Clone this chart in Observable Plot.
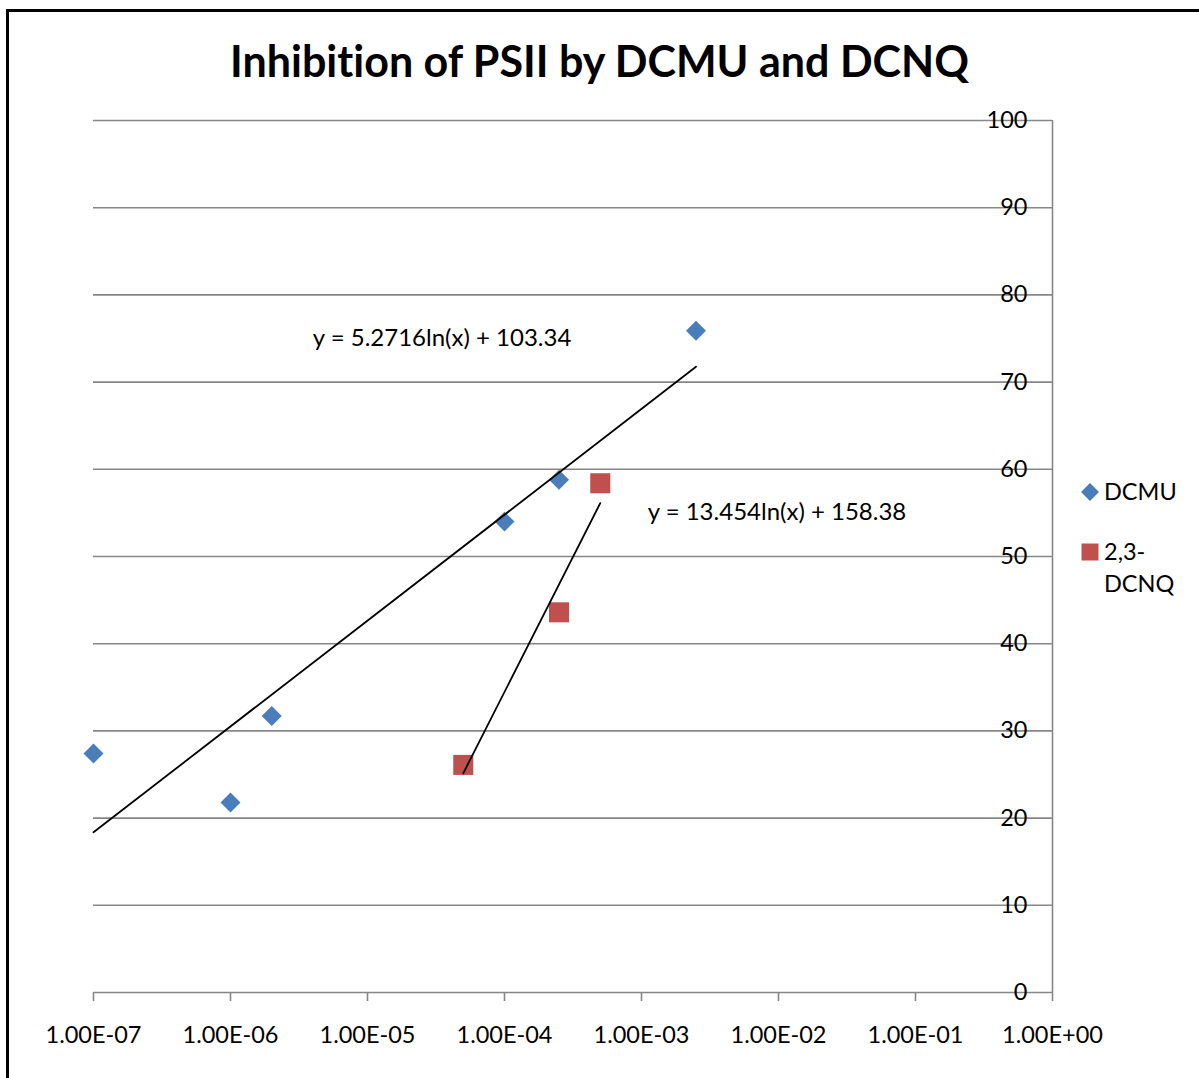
<!DOCTYPE html>
<html>
<head>
<meta charset="utf-8">
<script src="https://cdn.jsdelivr.net/npm/d3@7"></script>
<script src="https://cdn.jsdelivr.net/npm/@observablehq/plot@0.6"></script>
<style>
  html, body { margin: 0; padding: 0; background: white; }
  body { width: 1199px; height: 1078px; position: relative; overflow: hidden; font-family: Lato, "Open Sans", sans-serif; color: #000; font-variant-ligatures: none; }
  svg text { font-variant-ligatures: none; }
  #frame { position: absolute; left: 6px; top: 9px; width: 1300px; height: 1200px; border-left: 3px solid #000; border-top: 3px solid #000; box-sizing: border-box; pointer-events: none; z-index: 5; }
  #title { position: absolute; left: 0; top: 36px; width: 1199px; height: 50px; line-height: 50px; text-align: center; font-weight: bold; font-size: 43px; }
  #chart { position: absolute; left: 0; top: 100px; }
  #legend { position: absolute; left: 1081px; top: 475px; font-size: 23.5px; }
  .item { display: flex; align-items: flex-start; }
  .item svg { flex: none; margin-top: 8px; margin-right: 5px; }
  .item span { line-height: 32px; }
</style>
</head>
<body>
<div id="frame"></div>
<div id="title"></div>
<div id="chart"></div>
<div id="legend"></div>
<script>
// ---- data ----
const chartTitle = "Inhibition of PSII by DCMU and DCNQ";
const seriesNames = ["DCMU", "2,3-DCNQ"];
const seriesColors = ["#4A7EBB", "#C0504D"];

const xTicks = [1e-7, 1e-6, 1e-5, 1e-4, 1e-3, 1e-2, 1e-1, 1];
const xTickLabels = ["1.00E-07", "1.00E-06", "1.00E-05", "1.00E-04", "1.00E-03", "1.00E-02", "1.00E-01", "1.00E+00"];
const yTicks = [0, 10, 20, 30, 40, 50, 60, 70, 80, 90, 100];

const dcmuX = [1e-7, 1e-6, 2e-6, 1e-4, 2.5e-4, 2.5e-3];
const dcmuY = [27.4, 21.8, 31.7, 54.0, 58.8, 75.9];
const dcnqX = [5e-5, 2.5e-4, 5e-4];
const dcnqY = [26.1, 43.6, 58.4];

// logarithmic trendline coefficients (as printed on the chart): y = a ln(x) + b
const trendA = [5.2716, 13.454];
const trendB = [103.34, 158.38];
const trendLabels = ["y = 5.2716ln(x) + 103.34", "y = 13.454ln(x) + 158.38"];
const trendLabelX = [3.5e-5, 9.75e-3];
const trendLabelY = [75.0, 55.05];

// ---- build tables ----
const dcmu = dcmuX.map((x, i) => ({x, y: dcmuY[i]}));
const dcnq = dcnqX.map((x, i) => ({x, y: dcnqY[i]}));
const seriesX = [dcmuX, dcnqX];
const trend = [];
seriesX.forEach((xs, s) => {
  [d3.min(xs), d3.max(xs)].forEach(x => trend.push({series: seriesNames[s], x, y: trendA[s] * Math.log(x) + trendB[s]}));
});
const labels = trendLabels.map((t, i) => ({text: t, x: trendLabelX[i], y: trendLabelY[i]}));

document.getElementById("title").textContent = chartTitle;

const gray = "#878787";
const plot = Plot.plot({
  width: 1199,
  height: 978,
  marginLeft: 93,
  marginRight: 147,
  marginTop: 20,
  marginBottom: 86,
  style: {background: "transparent", fontFamily: "Lato, 'Open Sans', sans-serif", overflow: "visible"},
  x: {type: "log", domain: [1e-7, 1], label: null},
  y: {domain: [0, 100], label: null},
  marks: [
    Plot.ruleY(yTicks, {stroke: gray, strokeWidth: 1.6, strokeOpacity: 1}),
    Plot.ruleX([1], {y1: 0, y2: 100, stroke: gray, strokeWidth: 1.6}),
    Plot.axisX(xTicks, {
      tickSize: 9, tickPadding: 25, stroke: gray, strokeWidth: 1.6, strokeOpacity: 1,
      tickFormat: d => xTickLabels[xTicks.indexOf(d)],
      fontSize: 23.5, fill: "#000", label: null
    }),
    Plot.axisY(yTicks, {
      anchor: "right", tickSize: 0, tickPadding: 0, textAnchor: "end", dx: -25,
      fontSize: 23.5, fill: "#000", label: null
    }),
    Plot.dot(dcmu, {x: "x", y: "y", symbol: "diamond2", r: 9, fill: seriesColors[0], stroke: null}),
    Plot.dot(dcnq, {x: "x", y: "y", symbol: "square", r: 11.3, fill: seriesColors[1], stroke: null}),
    Plot.line(trend, {x: "x", y: "y", z: "series", stroke: "#000", strokeWidth: 1.8}),
    Plot.text(labels, {x: "x", y: "y", text: "text", fontSize: 24, fill: "#000"})
  ]
});
document.getElementById("chart").appendChild(plot);

// ---- legend ----
const legend = document.getElementById("legend");
const legendLines = [["DCMU"], ["2,3-", "DCNQ"]];
const legendShapes = [
  '<svg width="18" height="18" viewBox="-9 -9 18 18"><path d="M0,-9L9,0L0,9L-9,0Z" fill="' + seriesColors[0] + '"/></svg>',
  '<svg width="18" height="18" viewBox="-9 -9 18 18"><rect x="-8.5" y="-8.5" width="17" height="17" fill="' + seriesColors[1] + '"/></svg>'
];
legendLines.forEach((lines, i) => {
  const div = document.createElement("div");
  div.className = "item";
  div.style.marginBottom = i === 0 ? "28px" : "0";
  div.innerHTML = legendShapes[i] + '<span>' + lines.join("<br>") + '</span>';
  legend.appendChild(div);
});
</script>
</body>
</html>
